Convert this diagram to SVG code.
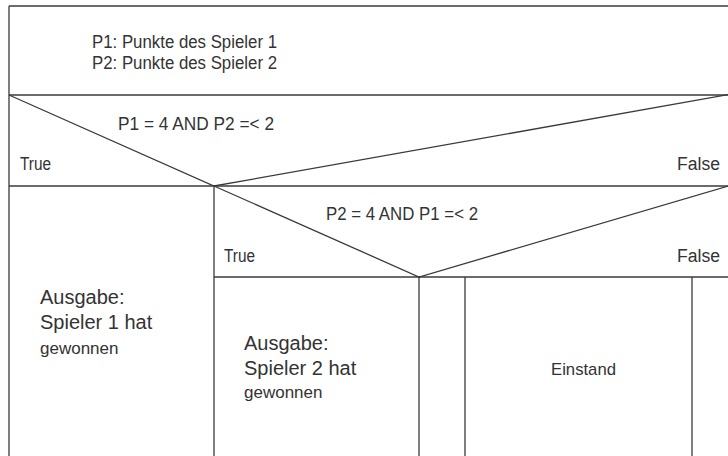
<svg xmlns="http://www.w3.org/2000/svg" width="728" height="456" viewBox="0 0 728 456">
<style>
  .ln { stroke: #3a3a3a; stroke-width: 1.3; fill: none; }
  .t { font-family: "Liberation Sans", Arial, sans-serif; fill: #333; font-size: 18px; }
  .big { font-size: 20px; }
  .mid { font-size: 17px; }
</style>
<rect x="0" y="0" width="728" height="456" fill="#ffffff"/>
<g id="connectors">
  <line class="ln" x1="9" y1="6" x2="732" y2="6"/>
  <line class="ln" x1="9" y1="6" x2="9" y2="460"/>
  <line class="ln" x1="9" y1="95" x2="732" y2="95"/>
  <line class="ln" x1="9" y1="186" x2="732" y2="186"/>
  <line class="ln" x1="214" y1="277" x2="732" y2="277"/>
  <line class="ln" x1="214" y1="186" x2="214" y2="460"/>
  <line class="ln" x1="419" y1="277" x2="419" y2="460"/>
  <line class="ln" x1="465" y1="277" x2="465" y2="460"/>
  <line class="ln" x1="692" y1="277" x2="692" y2="460"/>
</g>
<g id="header">
  <text class="t" x="92" y="48" textLength="185" lengthAdjust="spacingAndGlyphs">P1: Punkte des Spieler 1</text>
  <text class="t" x="92" y="69" textLength="185" lengthAdjust="spacingAndGlyphs">P2: Punkte des Spieler 2</text>
</g>
<g id="decision1">
  <polyline class="ln" points="9,95 214,186 732,94"/>
  <text class="t" x="118" y="130" textLength="156" lengthAdjust="spacingAndGlyphs">P1 = 4 AND P2 =&lt; 2</text>
  <text class="t" x="20" y="170" textLength="31" lengthAdjust="spacingAndGlyphs">True</text>
  <text class="t" x="677" y="170" textLength="43" lengthAdjust="spacingAndGlyphs">False</text>
</g>
<g id="output1">
  <text class="t big" x="40" y="304">Ausgabe:</text>
  <text class="t big" x="40" y="329">Spieler 1 hat</text>
  <text class="t mid" x="40" y="354">gewonnen</text>
</g>
<g id="decision2">
  <polyline class="ln" points="214,186 419,277 732,185"/>
  <text class="t" x="326" y="220" textLength="152" lengthAdjust="spacingAndGlyphs">P2 = 4 AND P1 =&lt; 2</text>
  <text class="t" x="224" y="262" textLength="31" lengthAdjust="spacingAndGlyphs">True</text>
  <text class="t" x="677" y="262" textLength="43" lengthAdjust="spacingAndGlyphs">False</text>
</g>
<g id="output2">
  <text class="t big" x="244" y="350">Ausgabe:</text>
  <text class="t big" x="244" y="375">Spieler 2 hat</text>
  <text class="t mid" x="244" y="398">gewonnen</text>
</g>
<g id="einstand">
  <text class="t mid" x="551" y="375" textLength="65" lengthAdjust="spacingAndGlyphs">Einstand</text>
</g>
</svg>
